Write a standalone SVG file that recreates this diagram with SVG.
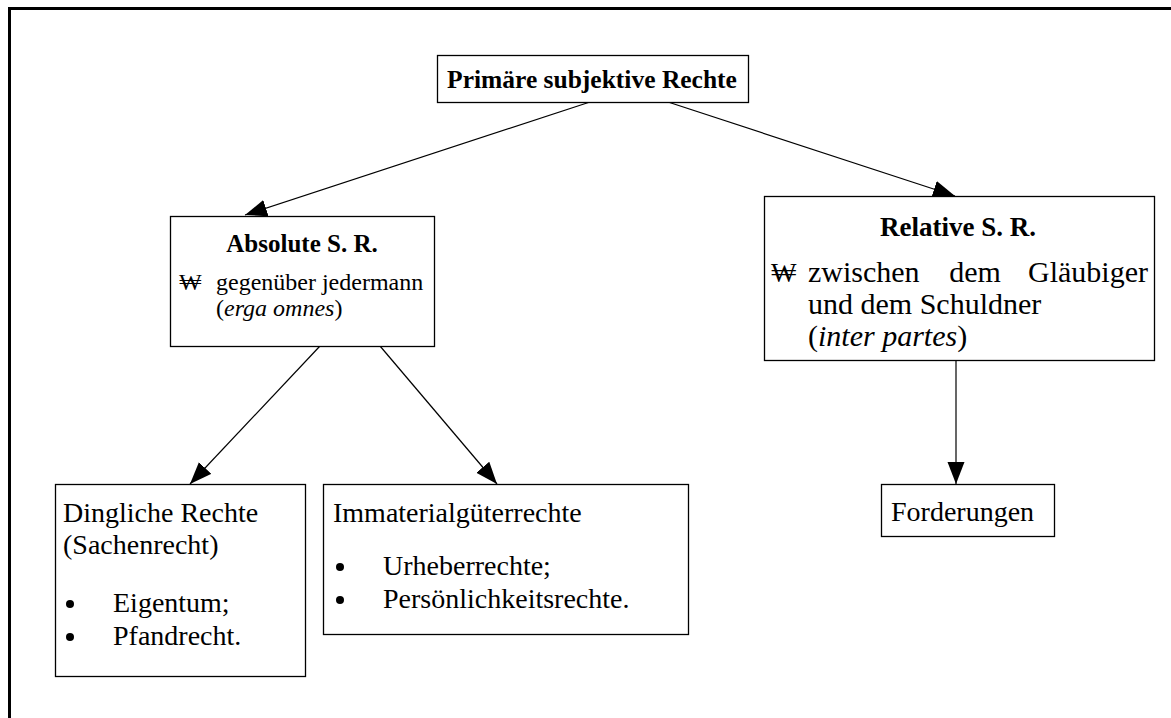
<svg xmlns="http://www.w3.org/2000/svg" width="1171" height="718" viewBox="0 0 1171 718">
<style>
.box{fill:#fff;stroke:#000;stroke-width:1.3}
text{font-family:"Liberation Serif","Times New Roman",serif;font-size:28px;fill:#000}
.b{font-weight:bold}
.i{font-style:italic}
.s24{font-size:24px}
.s30{font-size:30px}
.c{stroke:#000;stroke-width:1.2;fill:none}
</style>
<defs>
<marker id="ah" markerUnits="userSpaceOnUse" markerWidth="24" markerHeight="18" refX="22" refY="8.5" orient="auto">
<path d="M0,0 L22,8.5 L0,17 Z" fill="#000"/>
</marker>
</defs>
<rect x="0" y="0" width="1171" height="718" fill="#fff"/>
<path d="M9.5,718 V8.5 H1171" fill="none" stroke="#000" stroke-width="3"/>
<g id="connectors">
<line class="c" x1="590" y1="102" x2="245" y2="215" marker-end="url(#ah)"/>
<line class="c" x1="668" y1="102" x2="955" y2="196" marker-end="url(#ah)"/>
<line class="c" x1="320" y1="346" x2="190" y2="484" marker-end="url(#ah)"/>
<line class="c" x1="380" y1="346" x2="497" y2="484" marker-end="url(#ah)"/>
<line class="c" x1="956" y1="360" x2="956" y2="484" marker-end="url(#ah)"/>
</g>
<g id="n-primaer">
<rect class="box" x="437.5" y="55.5" width="311" height="47"/>
<text class="b" x="592" y="88" text-anchor="middle" style="font-size:25.5px">Primäre subjektive Rechte</text>
</g>
<g id="n-absolute">
<rect class="box" x="170.5" y="216.5" width="264" height="130"/>
<text class="b" x="302" y="252" text-anchor="middle" style="font-size:25px">Absolute S. R.</text>
<text class="s24" x="179" y="290">₩</text>
<text class="s24" x="216" y="290">gegenüber jedermann</text>
<text class="s24" x="216" y="316">(<tspan class="i">erga omnes</tspan>)</text>
</g>
<g id="n-relative">
<rect class="box" x="764.5" y="196.5" width="390" height="164"/>
<text class="b" x="958" y="236" text-anchor="middle" style="font-size:27px">Relative S. R.</text>
<text x="771" y="282" style="font-size:27px">₩</text>
<text class="s30" x="808" y="282">zwischen</text>
<text class="s30" x="1148" y="282" text-anchor="end">Gläubiger</text>
<text class="s30" x="975" y="282" text-anchor="middle">dem</text>
<text class="s30" x="808" y="314">und dem Schuldner</text>
<text class="s30" x="808" y="346">(<tspan class="i">inter partes</tspan>)</text>
</g>
<g id="n-dingliche">
<rect class="box" x="55.5" y="484.5" width="250" height="192"/>
<text x="63" y="522">Dingliche Rechte</text>
<text x="63" y="554">(Sachenrecht)</text>
<circle cx="70" cy="604" r="4"/>
<text x="113" y="612">Eigentum;</text>
<circle cx="70" cy="637" r="4"/>
<text x="113" y="645">Pfandrecht.</text>
</g>
<g id="n-immaterial">
<rect class="box" x="323.5" y="484.5" width="365" height="150"/>
<text x="333" y="522">Immaterialgüterrechte</text>
<circle cx="340" cy="567" r="4"/>
<text x="383" y="575">Urheberrechte;</text>
<circle cx="340" cy="600" r="4"/>
<text x="383" y="608">Persönlichkeitsrechte.</text>
</g>
<g id="n-forderungen">
<rect class="box" x="881.5" y="484.5" width="173" height="52"/>
<text x="891" y="521">Forderungen</text>
</g>
</svg>
